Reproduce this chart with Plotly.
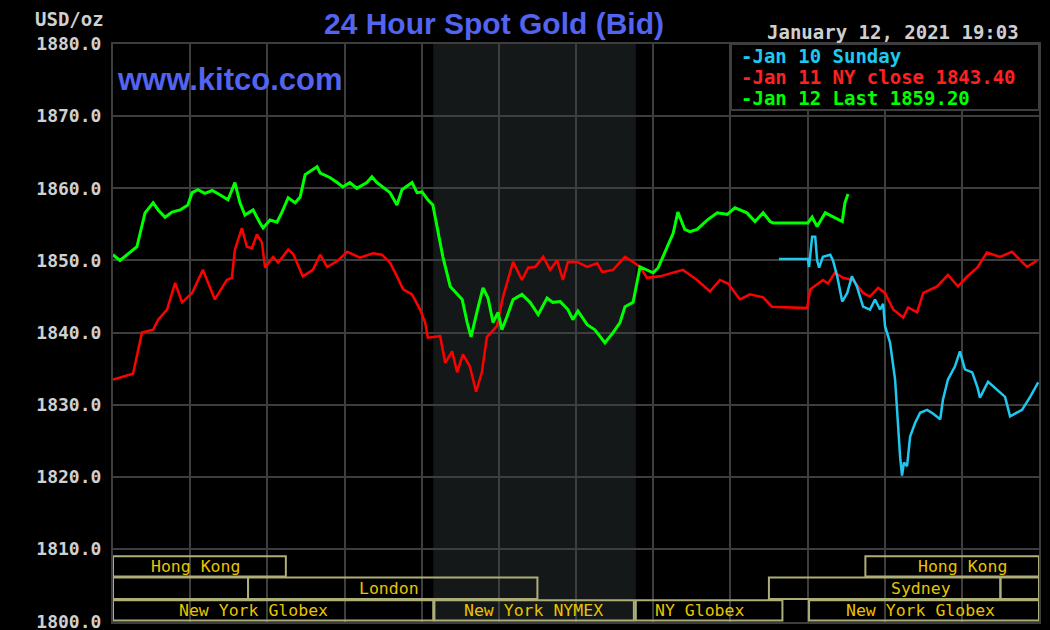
import plotly.graph_objects as go

# ---------------- data ----------------
red_h = [0.00, 0.52, 0.75, 1.04, 1.17, 1.40, 1.61, 1.79, 2.05, 2.33, 2.64, 2.95, 3.08, 3.16, 3.34, 3.47,
         3.60, 3.73, 3.86, 3.94, 4.15, 4.28, 4.54, 4.67, 4.92, 5.18, 5.37, 5.55, 5.83, 6.07, 6.40, 6.74,
         6.97, 7.18, 7.36, 7.52, 7.75, 7.96, 8.09, 8.16, 8.48, 8.61, 8.79, 8.92, 9.07, 9.25, 9.41, 9.56,
         9.69, 9.95, 10.11, 10.37, 10.60, 10.76, 10.94, 11.15, 11.33, 11.51, 11.66, 11.79, 12.03, 12.29,
         12.55, 12.68, 12.96, 13.27, 13.48, 13.66, 13.84, 14.18, 14.77, 15.14, 15.47, 15.73, 15.94, 16.25,
         16.51, 16.85, 17.08, 17.99, 18.07, 18.40, 18.53, 18.71, 18.92, 19.18, 19.44, 19.62, 19.83, 20.01,
         20.22, 20.48, 20.61, 20.84, 21.00, 21.36, 21.64, 21.90, 22.14, 22.40, 22.65, 22.99, 23.30, 23.56,
         23.69, 23.95]
red_v = [1833.5, 1834.3, 1840.0, 1840.4, 1841.8, 1843.2, 1846.9, 1844.2, 1845.5, 1848.7, 1844.6, 1847.3,
         1847.6, 1851.5, 1854.5, 1851.9, 1851.7, 1853.6, 1852.5, 1849.0, 1850.5, 1849.7, 1851.5, 1850.9,
         1847.8, 1848.7, 1850.8, 1849.1, 1850.0, 1851.2, 1850.4, 1851.0, 1850.8, 1849.7, 1847.8, 1846.0,
         1845.3, 1843.2, 1841.4, 1839.3, 1839.5, 1835.8, 1837.4, 1834.5, 1837.0, 1835.3, 1831.8, 1834.5,
         1839.4, 1840.9, 1845.0, 1849.8, 1847.3, 1849.0, 1849.1, 1850.5, 1848.7, 1850.0, 1847.3, 1849.8,
         1849.8, 1849.1, 1849.6, 1848.4, 1848.7, 1850.5, 1849.8, 1849.1, 1847.6, 1847.8, 1848.7, 1847.3,
         1845.7, 1847.3, 1846.8, 1844.6, 1845.3, 1844.9, 1843.6, 1843.4, 1846.0, 1847.3, 1846.8, 1848.3,
         1847.6, 1847.3, 1845.5, 1845.0, 1846.2, 1845.5, 1843.2, 1842.1, 1843.5, 1842.8, 1845.5, 1846.4,
         1848.0, 1846.4, 1847.8, 1849.0, 1851.1, 1850.5, 1851.2, 1849.7, 1849.1, 1850.0]

green_h = [0.00, 0.18, 0.62, 0.70, 0.83, 1.04, 1.17, 1.35, 1.53, 1.74, 1.94, 2.05, 2.20, 2.38, 2.57, 2.77,
           2.98, 3.16, 3.29, 3.42, 3.63, 3.81, 3.89, 4.07, 4.25, 4.38, 4.54, 4.72, 4.85, 4.98, 5.29, 5.37,
           5.62, 5.81, 5.96, 6.14, 6.32, 6.58, 6.71, 6.84, 7.00, 7.18, 7.36, 7.49, 7.75, 7.88, 8.01, 8.16,
           8.29, 8.40, 8.55, 8.74, 8.92, 9.05, 9.18, 9.28, 9.43, 9.59, 9.72, 9.85, 9.98, 10.08, 10.21, 10.37,
           10.60, 10.81, 11.02, 11.25, 11.40, 11.59, 11.79, 11.92, 12.05, 12.29, 12.49, 12.75, 12.96, 13.14,
           13.27, 13.48, 13.66, 13.84, 14.00, 14.13, 14.36, 14.52, 14.64, 14.82, 14.95, 15.14, 15.40, 15.66,
           15.92, 16.12, 16.43, 16.64, 16.85, 17.03, 17.11, 18.01, 18.12, 18.25, 18.46, 18.66, 18.90, 18.97,
           19.05]
green_v = [1850.8, 1850.0, 1851.9, 1853.8, 1856.6, 1858.0, 1857.0, 1856.0, 1856.7, 1857.0, 1857.7, 1859.4,
           1859.8, 1859.3, 1859.7, 1859.1, 1858.4, 1860.8, 1858.0, 1856.3, 1857.0, 1855.2, 1854.5, 1855.6,
           1855.3, 1856.7, 1858.7, 1858.0, 1858.8, 1861.9, 1863.0, 1862.1, 1861.5, 1860.8, 1860.2, 1860.8,
           1860.0, 1860.8, 1861.6, 1860.8, 1860.2, 1859.4, 1857.7, 1859.8, 1860.8, 1859.4, 1859.5, 1858.4,
           1857.7, 1854.7, 1850.5, 1846.4, 1845.3, 1844.6, 1841.4, 1839.4, 1842.8, 1846.2, 1844.8, 1841.4,
           1842.8, 1840.4, 1842.2, 1844.6, 1845.3, 1844.2, 1842.5, 1844.8, 1844.2, 1844.3, 1843.2, 1841.8,
           1843.0, 1841.1, 1840.4, 1838.6, 1840.0, 1841.4, 1843.6, 1844.2, 1849.1, 1848.7, 1848.3, 1849.0,
           1851.9, 1853.8, 1856.7, 1854.3, 1854.0, 1854.3, 1855.6, 1856.6, 1856.4, 1857.3, 1856.6, 1855.4,
           1856.6, 1855.4, 1855.2, 1855.2, 1856.0, 1854.7, 1856.6, 1856.1, 1855.4, 1858.0, 1859.2]

cyan_h = [17.26, 18.01, 18.04, 18.12, 18.20, 18.25, 18.30, 18.40, 18.59, 18.66, 18.77, 18.90, 19.03, 19.15,
          19.28, 19.44, 19.62, 19.75, 19.88, 19.96, 20.01, 20.14, 20.27, 20.32, 20.40, 20.45, 20.50, 20.58,
          20.66, 20.79, 20.92, 21.10, 21.25, 21.44, 21.51, 21.64, 21.82, 21.95, 22.08, 22.27, 22.40, 22.47,
          22.68, 22.91, 23.12, 23.25, 23.56, 23.77, 23.98]
cyan_v = [1850.2, 1850.2, 1849.1, 1853.3, 1853.3, 1850.0, 1849.0, 1850.5, 1850.8, 1850.0, 1847.8, 1844.3,
          1845.5, 1847.8, 1846.4, 1843.6, 1843.2, 1844.6, 1843.2, 1844.0, 1840.9, 1838.6, 1833.5, 1829.3,
          1822.8, 1820.2, 1822.0, 1821.5, 1825.6, 1827.5, 1828.9, 1829.3, 1828.8, 1828.0, 1830.7, 1833.5,
          1835.3, 1837.4, 1834.9, 1834.5, 1832.5, 1831.0, 1833.2, 1832.1, 1831.1, 1828.4, 1829.3, 1831.1,
          1833.1]

legend_labels = ["-Jan 10 Sunday", "-Jan 11 NY close 1843.40", "-Jan 12 Last 1859.20"]
y_ticks = [1800, 1810, 1820, 1830, 1840, 1850, 1860, 1870, 1880]

# sessions: (label, row, start hour, end hour)
sessions = [
    ("Hong Kong", 1, 0.0, 4.48),
    ("Hong Kong", 1, 19.5, 24.0),
    ("", 2, 0.0, 3.5),
    ("London", 2, 3.5, 11.0),
    ("Sydney", 2, 17.0, 23.0),
    ("", 2, 23.0, 24.0),
    ("New York Globex", 3, 0.0, 8.3),
    ("New York NYMEX", 3, 8.33, 13.5),
    ("NY Globex", 3, 13.55, 17.35),
    ("New York Globex", 3, 18.04, 24.0),
]
label_centers = [2.13, 22.03, None, 7.15, 20.94, None, 3.63, 10.89, 15.19, 20.94]

# ---------------- layout helpers ----------------
W, H = 1050, 630
L, R, T, B = 113, 11, 44, 8
PW, PH = W - L - R, H - T - B


def px_x(x):
    return (x - L) / PW


def px_y(y):
    return 1 - (y - T) / PH


BG = "#000000"
GRID = "#3e3e3e"
BLUE = "#5264f0"
MONO = "DejaVu Sans Mono"

fig = go.Figure()
fig.add_trace(go.Scatter(x=red_h, y=red_v, mode="lines", line=dict(color="#ff0000", width=2.5),
                         hoverinfo="skip", showlegend=False))
fig.add_trace(go.Scatter(x=green_h, y=green_v, mode="lines", line=dict(color="#00ff00", width=3),
                         hoverinfo="skip", showlegend=False))
fig.add_trace(go.Scatter(x=cyan_h, y=cyan_v, mode="lines", line=dict(color="#1ec8f0", width=2.5),
                         hoverinfo="skip", showlegend=False))

shapes = []
# NYMEX shaded band
shapes.append(dict(type="rect", xref="x", yref="paper", x0=8.3, x1=13.55, y0=0, y1=1,
                   fillcolor="#151818", line=dict(width=0), layer="below"))

# session boxes
row_bounds = {1: (1806.2, 1809.0), 2: (1803.1, 1806.05), 3: (1800.1, 1802.9)}
annotations = []
for (lab, row, s, e), cx in zip(sessions, label_centers):
    y0, y1 = row_bounds[row]
    shapes.append(dict(type="rect", xref="x", yref="y", x0=s, x1=e, y0=y0, y1=y1,
                       line=dict(color="#aeae78", width=2), fillcolor="rgba(0,0,0,0)", layer="above"))
    if lab:
        annotations.append(dict(x=cx, y=(y0 + y1) / 2, xref="x", yref="y", text=lab, showarrow=False,
                                font=dict(family=MONO, size=16.5, color="#e8c300"),
                                xanchor="center", yanchor="middle"))

# legend box
shapes.append(dict(type="rect", xref="paper", yref="paper", x0=px_x(731), x1=px_x(1039),
                   y0=px_y(110), y1=px_y(44), fillcolor=BG, line=dict(color=GRID, width=2), layer="above"))
legend_colors = ["#1ec8f0", "#ff2020", "#00ff00"]
for i, (txt, col) in enumerate(zip(legend_labels, legend_colors)):
    annotations.append(dict(x=px_x(739), y=px_y(55.5 + 21 * i), xref="paper", yref="paper", text=txt,
                            showarrow=False, xanchor="left", yanchor="middle",
                            font=dict(family=MONO, size=19, color=col, weight="bold")))

# texts
annotations += [
    dict(x=px_x(494), y=px_y(23), xref="paper", yref="paper", text="24 Hour Spot Gold (Bid)",
         showarrow=False, xanchor="center", yanchor="middle",
         font=dict(family="Liberation Sans", size=30, color=BLUE, weight="bold")),
    dict(x=px_x(115), y=px_y(80), xref="paper", yref="paper", text="www.kitco.com",
         showarrow=False, xanchor="left", yanchor="middle",
         font=dict(family="Liberation Sans", size=31, color=BLUE, weight="bold")),
    dict(x=px_x(106), y=px_y(19), xref="paper", yref="paper", text="USD/oz",
         showarrow=False, xanchor="right", yanchor="middle",
         font=dict(family=MONO, size=19, color="#cfcfcf", weight="bold")),
    dict(x=px_x(1021), y=px_y(32), xref="paper", yref="paper", text="January 12, 2021 19:03",
         showarrow=False, xanchor="right", yanchor="middle",
         font=dict(family=MONO, size=19, color="#cfcfcf", weight="bold")),
]

fig.update_layout(
    width=W, height=H,
    margin=dict(l=L, r=R, t=T, b=B, autoexpand=False),
    paper_bgcolor=BG, plot_bgcolor=BG,
    shapes=shapes, annotations=annotations,
    showlegend=False,
    xaxis=dict(range=[0, 24], dtick=2, tick0=0, showticklabels=False, showgrid=True,
               gridcolor=GRID, gridwidth=2, zeroline=False, showline=True, linecolor=GRID,
               linewidth=2, mirror=True, fixedrange=True, automargin=False),
    yaxis=dict(range=[1799.9, 1880], tickvals=y_ticks, ticktext=[f"{v:.1f}" for v in y_ticks],
               showgrid=True, gridcolor=GRID, gridwidth=2, zeroline=False, showline=True,
               linecolor=GRID, linewidth=2, mirror=True, ticks="", ticklabelstandoff=6,
               ticklabeloverflow="allow", automargin=False,
               tickfont=dict(family=MONO, size=18, color="#d0d0d0", weight="bold"), fixedrange=True),
)

fig.write_html("out.html", config={"displayModeBar": False},
               post_script="document.body.style.margin='0px';document.body.style.background='#000';")
